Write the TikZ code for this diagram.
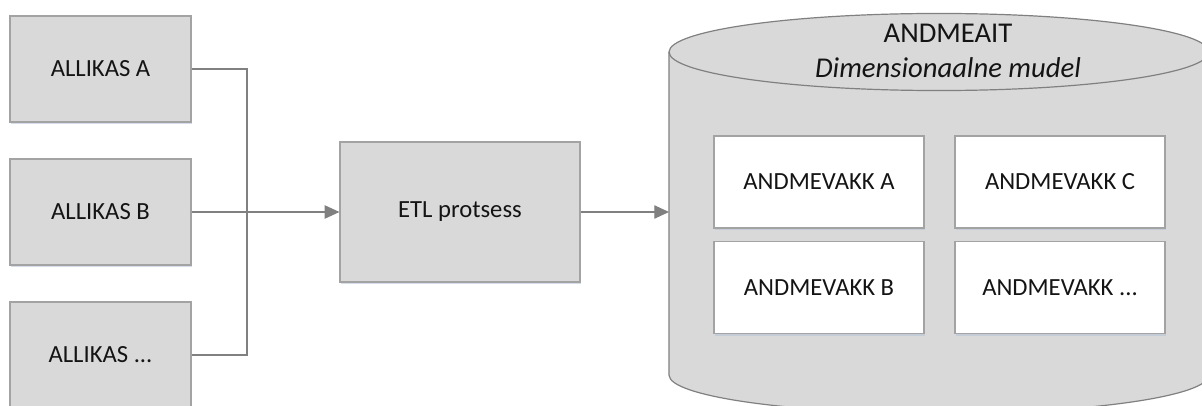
\documentclass[tikz,border=0pt]{standalone}
\usepackage{fontspec}
\setmainfont{Carlito}
\usetikzlibrary{arrows.meta,shadows}

\definecolor{boxfill}{HTML}{D9D9D9}
\definecolor{boxline}{HTML}{A3A3A3}
\definecolor{wireline}{HTML}{808080}
\definecolor{inkcol}{HTML}{141414}
\definecolor{shadowcol}{HTML}{B4C3D8}

\tikzset{
  softshadow/.style={drop shadow={shadow xshift=0.9pt, shadow yshift=-1.5pt,
      fill=shadowcol, opacity=0.55}},
  graybox/.style={draw=boxline, fill=boxfill, line width=0.9pt, softshadow,
      text=inkcol, font=\fontsize{18.5}{22}\selectfont, inner sep=0pt},
  srcbox/.style={graybox, minimum width=135.75pt, minimum height=79.5pt},
  etlbox/.style={graybox, minimum width=180pt, minimum height=105pt},
  martbox/.style={graybox, fill=white, minimum width=157.5pt, minimum height=69pt},
  wire/.style={draw=wireline, line width=0.8pt},
  flow/.style={wire, -{Triangle[length=11pt, width=10pt]}, fill=wireline},
  titletext/.style={text=inkcol, font=\fontsize{21.5}{26}\selectfont, inner sep=0pt}
}

\begin{document}
\begin{tikzpicture}[x=0.75pt, y=-0.75pt]
  \useasboundingbox (0,0) rectangle (1202,406);
  \clip (0,0) rectangle (1202,406);

  % sources
  \node[srcbox] (srcA) at (100.5,69)  {ALLIKAS A};
  \node[srcbox] (srcB) at (100.5,212) {ALLIKAS B};
  \node[srcbox] (srcC) at (100.5,355) {ALLIKAS ...};

  % ETL step
  \node[etlbox] (etl) at (460,212) {ETL protsess};

  % data warehouse cylinder
  \path[draw=wireline, fill=boxfill, line width=0.9pt]
    (669,52) -- (669,375)
    arc[start angle=180, end angle=360, x radius=202.5pt, y radius=28.9pt]
    -- (1209,52)
    arc[start angle=0, end angle=180, x radius=202.5pt, y radius=28.9pt] -- cycle;
  \draw[draw=wireline, line width=0.9pt]
    (669,52) arc[start angle=180, end angle=360, x radius=202.5pt, y radius=28.9pt];
  \coordinate (dwin) at (669,212);

  \node[titletext] (dwtitle) at (948,33) {ANDMEAIT};
  \node[titletext] (dwsub) at (948,68) {\itshape Dimensionaalne mudel};

  % data marts
  \node[martbox] (martA) at (819,182)  {ANDMEVAKK A};
  \node[martbox] (martB) at (819,287.5) {ANDMEVAKK B};
  \node[martbox] (martC) at (1060,182)  {ANDMEVAKK C};
  \node[martbox] (martD) at (1060,287.5) {ANDMEVAKK ...};

  % connectors
  \coordinate (join) at (247,212);
  \draw[wire] (srcA.east) -| (join);
  \draw[wire] (srcC.east) -| (join);
  \draw[flow] (srcB.east) -- (etl.west);
  \draw[flow] (etl.east) -- (dwin);
\end{tikzpicture}
\end{document}
